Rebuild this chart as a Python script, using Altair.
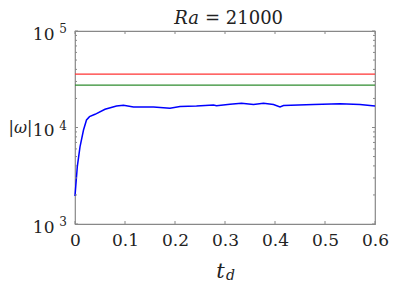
import altair as alt
import pandas as pd

# blue curve |omega| vs t_d
t_d = [0, 0.0046, 0.01, 0.017, 0.023, 0.029, 0.04, 0.06, 0.083, 0.097, 0.117, 0.157,
       0.19, 0.21, 0.243, 0.277, 0.283, 0.31, 0.333, 0.357, 0.377, 0.397, 0.41, 0.417,
       0.477, 0.53, 0.57, 0.6]
omega = [1950, 3930, 6300, 9420, 11970, 12950, 13700, 15450, 16700, 17000, 16300, 16300,
         15800, 16500, 16700, 17100, 16800, 17400, 17800, 17300, 17800, 17300, 16300, 16900,
         17300, 17650, 17300, 16700]

ref_values = [35800, 27500]
ref_colors = ["#ff3333", "#2e8b2e"]

x_ticks = [0, 0.1, 0.2, 0.3, 0.4, 0.5, 0.6]
y_major = [1000, 10000, 100000]
y_exps = ["3", "4", "5"]
y_minor = [2000, 3000, 4000, 5000, 6000, 7000, 8000, 9000,
           20000, 30000, 40000, 50000, 60000, 70000, 80000, 90000]

W, H = 300, 193
FONT = "DejaVu Serif"
AX = "#888888"
TXT = "#222222"

xs = alt.Scale(domain=[0, 0.6], nice=False, zero=False)
ys = alt.Scale(type="log", domain=[1000, 100000], nice=False)

curve = pd.DataFrame({"t": t_d, "w": omega})
refs = pd.DataFrame({"v": ref_values, "c": ref_colors})
xt = pd.DataFrame({"t": x_ticks})
ymaj = pd.DataFrame({"v": y_major, "e": y_exps})
ymin = pd.DataFrame({"v": y_minor})
one = pd.DataFrame({"a": [0]})

line = alt.Chart(curve).mark_line(color="#0000ff", strokeWidth=1.5).encode(
    x=alt.X("t:Q", scale=xs, axis=alt.Axis(
        values=x_ticks, labelExpr="datum.value == 0 ? '0' : format(datum.value, '.1f')",
        tickSize=0, domain=False, grid=False, labelFlush=False, labelPadding=8,
        labelFont=FONT, labelFontSize=17, labelColor=TXT,
        title="t", titleFont=FONT, titleFontSize=21, titleFontStyle="italic",
        titleFontWeight="normal", titleColor=TXT, titleX=145, titleY=53,
        titleBaseline="alphabetic")),
    y=alt.Y("w:Q", scale=ys, axis=alt.Axis(
        values=y_major, labelExpr="'10'", tickSize=0, domain=False, grid=False,
        labelPadding=21, labelOffset=3, labelFont=FONT, labelFontSize=17, labelColor=TXT,
        title="|ω|", titleAngle=0, titleX=-67, titleY=96, titleAlign="left",
        titleBaseline="middle", titleFont=FONT, titleFontSize=16, titleFontStyle="italic",
        titleFontWeight="normal", titleColor=TXT)),
)

reflines = alt.Chart(refs).mark_rule(strokeWidth=1.3).encode(
    y=alt.Y("v:Q", scale=ys), color=alt.Color("c:N", scale=None))

tick_bottom = alt.Chart(xt).mark_rule(color=AX).encode(
    x=alt.X("t:Q", scale=xs), y=alt.value(H), y2=alt.value(H - 3))
tick_top = alt.Chart(xt).mark_rule(color=AX).encode(
    x=alt.X("t:Q", scale=xs), y=alt.value(0), y2=alt.value(3))
tick_left = alt.Chart(ymaj).mark_rule(color=AX).encode(
    y=alt.Y("v:Q", scale=ys), x=alt.value(0), x2=alt.value(3))
tick_right = alt.Chart(ymaj).mark_rule(color=AX).encode(
    y=alt.Y("v:Q", scale=ys), x=alt.value(W), x2=alt.value(W - 3))
minor_left = alt.Chart(ymin).mark_rule(color=AX).encode(
    y=alt.Y("v:Q", scale=ys), x=alt.value(0), x2=alt.value(2))
minor_right = alt.Chart(ymin).mark_rule(color=AX).encode(
    y=alt.Y("v:Q", scale=ys), x=alt.value(W), x2=alt.value(W - 2))

exps = alt.Chart(ymaj).mark_text(font=FONT, fontSize=12, align="right",
                                 baseline="middle", dy=-2, color=TXT).encode(
    y=alt.Y("v:Q", scale=ys), x=alt.value(-8), text="e:N")

sub_d = alt.Chart(one).mark_text(font=FONT, fontSize=14, fontStyle="italic",
                                 align="left", baseline="alphabetic", color=TXT).encode(
    x=alt.value(151), y=alt.value(H + 56), text=alt.value("d"))

title_ra = alt.Chart(one).mark_text(font=FONT, fontSize=18, fontStyle="italic",
                                    align="right", baseline="alphabetic", color=TXT).encode(
    x=alt.value(124), y=alt.value(-7), text=alt.value("Ra"))
title_rest = alt.Chart(one).mark_text(font=FONT, fontSize=18,
                                      align="left", baseline="alphabetic", color=TXT).encode(
    x=alt.value(130), y=alt.value(-7), text=alt.value("= 21000"))

chart = alt.layer(
    reflines, line, tick_bottom, tick_top, tick_left, tick_right,
    minor_left, minor_right, exps, sub_d, title_ra, title_rest
).properties(
    width=W, height=H,
    autosize=alt.AutoSizeParams(type="none"),
    padding={"left": 67, "top": 23, "right": 16, "bottom": 60},
).configure_view(stroke=AX, strokeWidth=1.2)

chart.save("out.html", embed_options={"renderer": "svg", "actions": False})
